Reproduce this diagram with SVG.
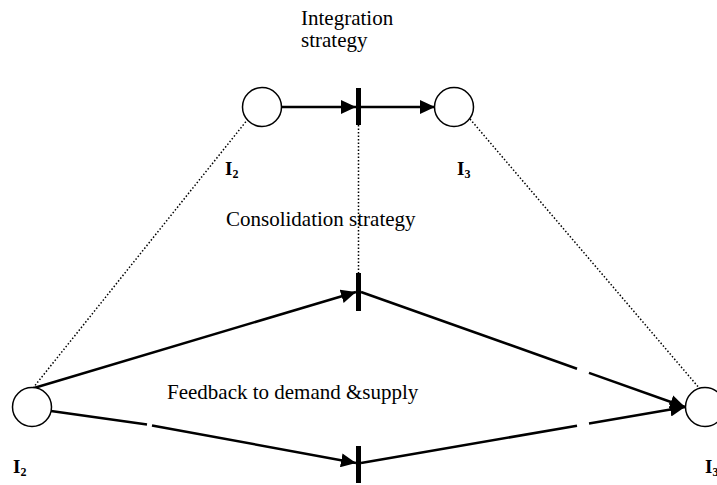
<svg xmlns="http://www.w3.org/2000/svg" width="717" height="485" viewBox="0 0 717 485">
<defs>
<marker id="arr" markerUnits="userSpaceOnUse" markerWidth="16" markerHeight="14" refX="15" refY="7" orient="auto">
<path d="M0,0 L15,7 L0,14 Z" fill="#000"/>
</marker>
<style>
.place{fill:#fff;stroke:#000;stroke-width:1.5}
.bar{fill:#000}
.arc{fill:none;stroke:#000;stroke-width:2.5}
.dot{fill:none;stroke:#000;stroke-width:1.5;stroke-dasharray:1.5 2}
.txt{font-family:"Liberation Serif","Times New Roman",serif;font-size:21px;fill:#000}
.lbl{font-family:"Liberation Serif","Times New Roman",serif;font-size:19px;font-weight:bold;fill:#000}
.sub{font-size:12px}
</style>
</defs>
<rect width="717" height="485" fill="#fff"/>
<g id="connectors">
<line class="arc" x1="281.5" y1="107" x2="356" y2="107" marker-end="url(#arr)"/>
<line class="arc" x1="361" y1="107" x2="435" y2="107" marker-end="url(#arr)"/>
<line class="dot" x1="358.5" y1="125" x2="358.5" y2="273"/>
<line class="dot" x1="248" y1="119" x2="33" y2="388"/>
<line class="dot" x1="470" y1="119" x2="700" y2="389"/>
<line class="arc" x1="34" y1="388" x2="356" y2="292" marker-end="url(#arr)"/>
<path class="arc" d="M361,292 L577,368.7"/>
<line class="arc" x1="589" y1="372.9" x2="685" y2="407" marker-end="url(#arr)"/>
<path class="arc" d="M51,411 L147,424.6"/>
<line class="arc" x1="152" y1="425.4" x2="356" y2="463" marker-end="url(#arr)"/>
<path class="arc" d="M361,463 L577,425.7"/>
<line class="arc" x1="589" y1="423.6" x2="685" y2="407" marker-end="url(#arr)"/>
</g>
<g id="p1"><circle class="place" cx="262" cy="107" r="19.5"/><text class="lbl" x="225" y="175">I<tspan class="sub" dy="3">2</tspan></text></g>
<g id="p2"><circle class="place" cx="454" cy="107" r="19.5"/><text class="lbl" x="457" y="175">I<tspan class="sub" dy="3">3</tspan></text></g>
<g id="p3"><circle class="place" cx="32" cy="407" r="19.5"/><text class="lbl" x="13" y="473">I<tspan class="sub" dy="3">2</tspan></text></g>
<g id="p4"><circle class="place" cx="705" cy="407" r="19.5"/><text class="lbl" x="705" y="473">I<tspan class="sub" dy="3">3</tspan></text></g>
<g id="t1"><rect class="bar" x="356" y="88" width="5" height="37"/><text class="txt" x="301" y="25">Integration</text><text class="txt" x="301" y="47">strategy</text></g>
<g id="t2"><rect class="bar" x="356" y="273" width="5" height="38"/><text class="txt" x="226" y="226">Consolidation strategy</text></g>
<g id="t3"><rect class="bar" x="356" y="446" width="5" height="37"/><text class="txt" x="167" y="399">Feedback to demand &amp;supply</text></g>
</svg>
